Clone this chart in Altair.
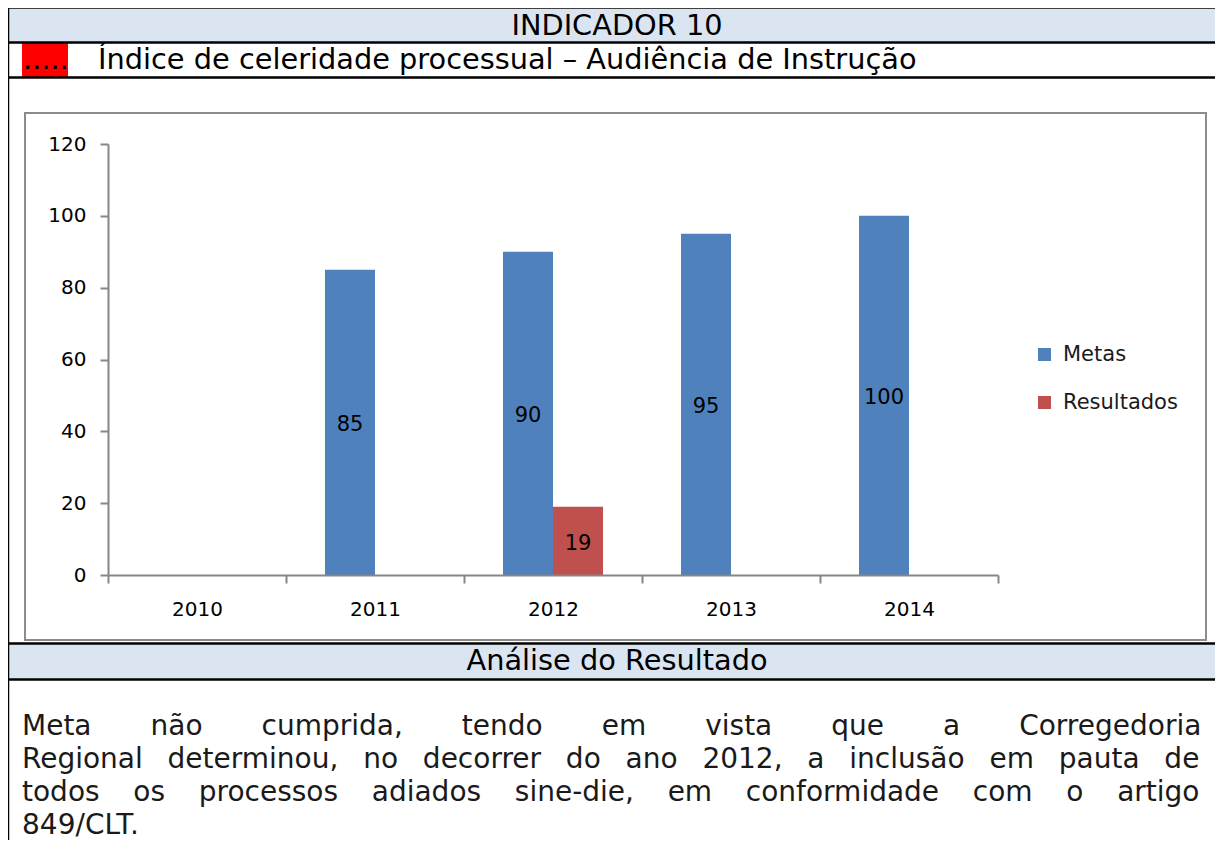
import altair as alt
import pandas as pd

# ---------------- data ----------------
YEARS = ["2010", "2011", "2012", "2013", "2014"]
SERIES = ["Metas", "Resultados"]
METAS_YEARS = ["2011", "2012", "2013", "2014"]
METAS = [85, 90, 95, 100]
RESULT_YEARS = ["2012"]
RESULTADOS = [19]
Y_TICKS = [0, 20, 40, 60, 80, 100, 120]
COLORS = ["#4F81BD", "#C0504D"]

HEADER = "INDICADOR 10"
SUB_MARK = "....."
SUBTITLE = "Índice de celeridade processual – Audiência de Instrução"
SECTION = "Análise do Resultado"
BODY_WORDS = [
    ["Meta", "não", "cumprida,", "tendo", "em", "vista", "que", "a", "Corregedoria"],
    ["Regional", "determinou,", "no", "decorrer", "do", "ano", "2012,", "a", "inclusão", "em", "pauta", "de"],
    ["todos", "os", "processos", "adiados", "sine-die,", "em", "conformidade", "com", "o", "artigo"],
    ["849/CLT."],
]
NB = "\u00a0"
BODY_GAPS = [NB * 6 + "\u2009", NB * 2 + "\u2005", NB * 3 + "\u2005", " "]

FONT = "DejaVu Sans"

rows = [{"year": y, "series": "Metas", "value": v} for y, v in zip(METAS_YEARS, METAS)]
rows += [{"year": y, "series": "Resultados", "value": v} for y, v in zip(RESULT_YEARS, RESULTADOS)]
df = pd.DataFrame(rows)
one = pd.DataFrame({"k": [0]})

# ---------------- helpers for the table decoration ----------------
def rect(x, x2, y, y2, **kw):
    return alt.Chart(one).mark_rect(**kw).encode(
        x=alt.value(x), x2=alt.value(x2), y=alt.value(y), y2=alt.value(y2))

def hline(x, x2, y, **kw):
    return alt.Chart(one).mark_rule(**kw).encode(
        x=alt.value(x), x2=alt.value(x2), y=alt.value(y))

def vline(x, y, y2, **kw):
    return alt.Chart(one).mark_rule(**kw).encode(
        x=alt.value(x), y=alt.value(y), y2=alt.value(y2))

def label(text, x, y, **kw):
    return alt.Chart(pd.DataFrame({"t": [text]})).mark_text(
        font=FONT, baseline="middle", **kw).encode(
        x=alt.value(x), y=alt.value(y), text="t:N")

LEFT, RIGHT = -100, 1108
BLUE = "#DBE5F1"

deco_back = [
    rect(LEFT, RIGHT, -135, -102, color=BLUE),
    rect(LEFT, RIGHT, 500, 535, color=BLUE),
    rect(-86, -40, -101, -67, color="#FF0000"),
    rect(-83, 1098, -31, 496, fill="white", fillOpacity=0, stroke="#8C8C8C", strokeWidth=2),
]

# ---------------- bar chart ----------------
x_enc = alt.X("year:N", scale=alt.Scale(domain=YEARS, paddingInner=0, paddingOuter=0),
              axis=alt.Axis(title=None, labelAngle=0, tickBand="extent", tickSize=8,
                            tickWidth=2, tickColor="#868686", domainColor="#868686",
                            domainWidth=2, labelFont=FONT, labelFontSize=20,
                            labelColor="#000000", labelPadding=16, zindex=1))
xo_enc = alt.XOffset("series:N", scale=alt.Scale(domain=SERIES, paddingInner=0, paddingOuter=0.78))
y_axis = alt.Axis(title=None, values=Y_TICKS, grid=False, tickSize=8, tickWidth=2,
                  tickColor="#868686", domainColor="#868686", domainWidth=2,
                  labelFont=FONT, labelFontSize=20, labelColor="#000000", labelPadding=14,
                  zindex=1)
y_scale = alt.Scale(domain=[0, 120], nice=False)

bars = alt.Chart(df).mark_bar().encode(
    x=x_enc, xOffset=xo_enc,
    y=alt.Y("value:Q", scale=y_scale, axis=y_axis),
    color=alt.Color("series:N", scale=alt.Scale(domain=SERIES, range=COLORS),
                    legend=alt.Legend(title=None, orient="none", legendX=926, legendY=200,
                                      symbolType="square", symbolSize=169,
                                      symbolStrokeWidth=0, symbolOpacity=1,
                                      labelFont=FONT, labelFontSize=21,
                                      labelColor="#1a1a1a", rowPadding=26,
                                      labelOffset=8, padding=0)),
)

values = alt.Chart(df).transform_calculate(mid="datum.value / 2").mark_text(
    font=FONT, fontSize=21, color="#000000", baseline="middle", dy=3).encode(
    x=x_enc, xOffset=xo_enc,
    y=alt.Y("mid:Q", scale=y_scale, axis=y_axis),
    text="value:Q",
)

# ---------------- lines and texts ----------------
deco_front = [
    hline(LEFT - 1, RIGHT, -136.5, color="black", strokeWidth=2.5),
    hline(LEFT, RIGHT, -101.5, color="black", strokeWidth=2.5),
    hline(LEFT, RIGHT, -66.5, color="black", strokeWidth=2.5),
    hline(LEFT, RIGHT, 499.5, color="black", strokeWidth=2.5),
    hline(LEFT, RIGHT, 535.5, color="black", strokeWidth=2.5),
    vline(LEFT, -137.5, 720, color="black", strokeWidth=2.5),
    label(HEADER, 509, -118, fontSize=28.8, align="center", color="black"),
    label(SUB_MARK, -85, -84, fontSize=28.8, align="left", color="black"),
    label(SUBTITLE, -10, -84, fontSize=28.8, align="left", color="black"),
    label(SECTION, 509, 517, fontSize=28.8, align="center", color="black"),
]
for i, (words, gap) in enumerate(zip(BODY_WORDS, BODY_GAPS)):
    deco_front.append(label(gap.join(words), -86, 583 + 33 * i, fontSize=28,
                            align="left", color="#1a1a1a"))

chart = alt.layer(*deco_back, bars, values, *deco_front).properties(
    width=890, height=431,
    padding={"left": 100, "top": 136, "right": 217, "bottom": 265},
    autosize=alt.AutoSizeParams(type="none"),
    background="white",
).configure_view(stroke=None)

chart.save("out.html", embed_options={"renderer": "svg", "actions": False})
